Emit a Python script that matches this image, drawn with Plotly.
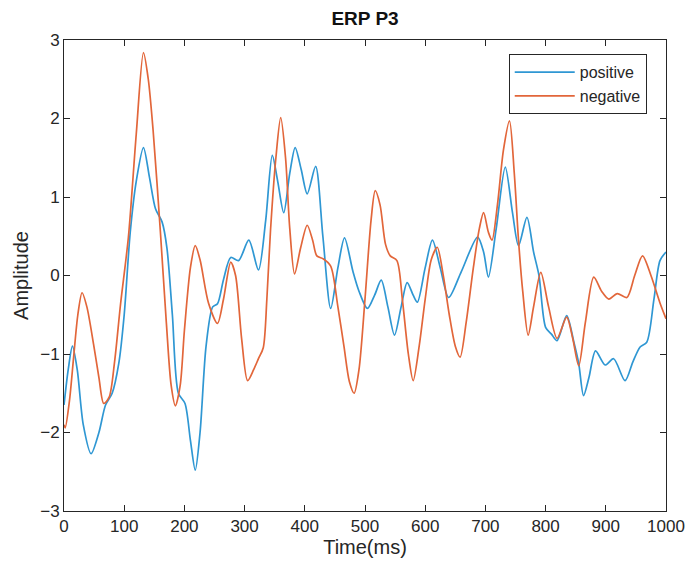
import plotly.graph_objects as go

# positive (blue) series: time (ms), amplitude
pos_t = [0, 7, 14, 22, 32, 45, 58, 69, 80, 91, 100, 110, 120, 132, 142, 152, 163, 171, 180, 190,
         201, 210, 218, 226, 236, 247, 255, 265, 277, 290, 307, 323, 335, 346, 355, 365, 375, 384,
         394, 404, 418, 430, 443, 455, 466, 480, 490, 504, 516, 527, 538, 549, 560, 570, 580, 587,
         600, 612, 625, 639, 660, 687, 697, 705, 718, 733, 745, 755, 769, 780, 789, 800, 810, 819,
         835, 847, 855, 863, 872, 883, 899, 913, 932, 945, 957, 968, 980, 990, 1000]
pos_v = [-1.65, -1.2, -0.9, -1.2, -1.9, -2.27, -2.0, -1.65, -1.5, -1.12, -0.5, 0.55, 1.2, 1.63, 1.25,
         0.85, 0.68, 0.35, -0.5, -1.5, -1.63, -2.1, -2.48, -2.0, -0.9, -0.4, -0.36, -0.05, 0.23, 0.19,
         0.45, 0.07, 0.7, 1.53, 1.2, 0.8, 1.3, 1.63, 1.35, 1.04, 1.39, 0.5, -0.42, 0.1, 0.48, 0.05,
         -0.2, -0.42, -0.25, -0.06, -0.4, -0.76, -0.4, -0.09, -0.25, -0.34, 0.1, 0.45, 0.1, -0.28,
         0.05, 0.49, 0.3, -0.02, 0.6, 1.38, 0.8, 0.38, 0.74, 0.3, 0.0, -0.66, -0.75, -0.83, -0.51,
         -0.85, -1.12, -1.53, -1.3, -0.96, -1.14, -1.06, -1.34, -1.1, -0.91, -0.85, -0.3, 0.19, 0.3]

# negative (orange) series
neg_t = [0, 2, 9, 16, 23, 30, 38, 49, 58, 66, 75, 84, 94, 107, 120, 132, 140, 148, 160, 170, 178,
         185, 193, 200, 210, 218, 226, 240, 255, 265, 277, 285, 295, 305, 315, 323, 331, 337, 343,
         352, 360, 368, 375, 383, 393, 404, 413, 420, 431, 443, 455, 465, 474, 482, 490, 500, 510,
         517, 525, 534, 542, 553, 562, 572, 580, 590, 600, 610, 620, 630, 640, 650, 658, 668, 680,
         690, 697, 705, 711, 720, 730, 740, 748, 755, 762, 771, 780, 792, 805, 819, 835, 845, 855,
         866, 880, 893, 905, 919, 935, 948, 961, 975, 990, 1000]
neg_v = [-1.9, -1.94, -1.6, -1.04, -0.5, -0.22, -0.4, -0.87, -1.3, -1.63, -1.55, -1.1, -0.36, 0.49,
         1.8, 2.84, 2.5, 1.85, 0.57, -0.6, -1.4, -1.66, -1.4, -0.7, 0.1, 0.38, 0.2, -0.35, -0.61,
         -0.3, 0.17, 0.0, -0.8, -1.34, -1.2, -1.06, -0.92, -0.3, 0.57, 1.5, 2.01, 1.5, 0.6, 0.02,
         0.35, 0.64, 0.45, 0.25, 0.21, 0.12, -0.4, -0.9, -1.35, -1.5, -1.2, -0.3, 0.7, 1.08, 0.9,
         0.4, 0.25, 0.19, -0.3, -1.0, -1.34, -0.9, -0.3, 0.2, 0.36, 0.0, -0.5, -0.9, -1.04, -0.6,
         0.1, 0.6, 0.8, 0.55, 0.45, 0.9, 1.6, 1.97, 1.3, 0.45, -0.2, -0.76, -0.4, 0.04, -0.4, -0.8,
         -0.53, -0.8, -1.15, -0.6, -0.02, -0.2, -0.3, -0.23, -0.28, 0.0, 0.25, 0.0, -0.35, -0.55]

x_ticks = [0, 100, 200, 300, 400, 500, 600, 700, 800, 900, 1000]
y_ticks = [-3, -2, -1, 0, 1, 2, 3]

FONT = "Liberation Sans, Arial, sans-serif"
AX = "#262626"
W, H = 687, 574

fig = go.Figure()
fig.add_trace(go.Scatter(x=pos_t, y=pos_v, mode="lines", name="positive",
                         line=dict(color="#2f97d3", width=1.7, shape="spline", smoothing=0.8)))
fig.add_trace(go.Scatter(x=neg_t, y=neg_v, mode="lines", name="negative",
                         line=dict(color="#e2663a", width=1.7, shape="spline", smoothing=0.8)))

axis_common = dict(showline=True, linecolor=AX, linewidth=1, mirror="ticks", ticks="inside",
                   ticklen=6, tickcolor=AX, tickwidth=1, showgrid=False, zeroline=False,
                   automargin=False,
                   tickfont=dict(family=FONT, size=17, color=AX))

fig.update_layout(
    width=W, height=H,
    paper_bgcolor="white", plot_bgcolor="white",
    margin=dict(l=64, r=21, t=40, b=63, autoexpand=False),
    title=dict(text="<b>ERP P3</b>", x=0.5, xanchor="center", y=1 - 18 / H, yanchor="middle",
               xref="paper", yref="container", automargin=False,
               font=dict(family=FONT, size=19, color="#111")),
    xaxis=dict(range=[0, 1000], tickvals=x_ticks,
               title=dict(text="Time(ms)", font=dict(family=FONT, size=20, color=AX), standoff=2),
               **axis_common),
    yaxis=dict(range=[-3, 3], tickvals=y_ticks,
               title=dict(text="Amplitude", font=dict(family=FONT, size=20, color=AX), standoff=6),
               **axis_common),
    legend=dict(x=0.968, y=0.97, xanchor="right", yanchor="top", bordercolor=AX, borderwidth=1,
                bgcolor="white", font=dict(family=FONT, size=16, color=AX), tracegroupgap=0,
                itemwidth=60),
    showlegend=True,
)

fig.write_html("out.html", config={"displayModeBar": False},
               post_script="document.body.style.margin='0';document.body.style.overflow='hidden';")
